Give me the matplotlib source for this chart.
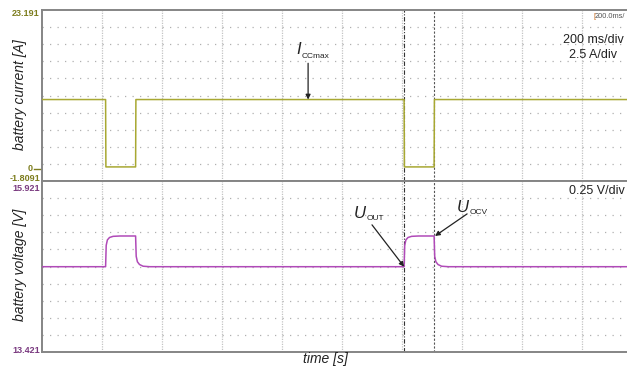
#!/usr/bin/env python3
"""
Oscilloscope-style plot: battery current and battery voltage during two
open-circuit pulses (U_OUT / U_OCV measurement).
"""

import matplotlib
matplotlib.use("Agg")
import matplotlib.pyplot as plt

# ------------------------------------------------------------------ #
#  Data
# ------------------------------------------------------------------ #
# current trace [s], [A]
t_cur = [0.0, 0.212, 0.213, 0.312, 0.313, 1.207, 1.208, 1.307, 1.308, 2.0]
i_cur = [10.1, 10.1, 0.25, 0.25, 10.1, 10.1, 0.25, 0.25, 10.1, 10.1]

# voltage trace [s], [V]
t_volt = [0.0, 0.212, 0.214, 0.218, 0.225, 0.237, 0.26, 0.312,
          0.314, 0.318, 0.325, 0.337, 0.36,
          1.207, 1.209, 1.213, 1.220, 1.232, 1.255, 1.307,
          1.309, 1.313, 1.320, 1.332, 1.355, 2.0]
v_volt = [14.668, 14.668, 14.98, 15.06, 15.095, 15.112, 15.117, 15.117,
          14.82, 14.74, 14.70, 14.675, 14.668,
          14.668, 14.98, 15.06, 15.095, 15.112, 15.117, 15.117,
          14.82, 14.74, 14.70, 14.675, 14.668, 14.668]

# screen scaling
I_MIN, I_MAX = -1.8091, 23.191
V_MIN, V_MAX = 13.421, 15.921
T_MIN, T_MAX = 0.0, 2.0
N_DIV = 10

CURSOR_A = 1.207
CURSOR_B = 1.307

# ------------------------------------------------------------------ #
#  Style
# ------------------------------------------------------------------ #
plt.rcParams["font.family"] = ["Liberation Sans", "DejaVu Sans"]

OLIVE_TXT = "#7d7d1e"
OLIVE_SIG = "#a8a832"
PURPLE_TXT = "#7a3a80"
PURPLE_SIG = "#b04ab8"
FRAME = "#858585"
GRID = "#c4c4c4"

W, H = 627, 368
fig = plt.figure(figsize=(W / 100, H / 100), dpi=100)

# pixel layout of the scope screen
X0, X1 = 42, 642
Y_TOP, Y_MID, Y_BOT = 10, 181, 352


def px_box(x0, x1, ytop, ybot):
    return [x0 / W, 1 - ybot / H, (x1 - x0) / W, (ybot - ytop) / H]


def fy(y_px):
    return 1 - y_px / H


ax_i = fig.add_axes(px_box(X0, X1, Y_TOP, Y_MID))
ax_v = fig.add_axes(px_box(X0, X1, Y_MID, Y_BOT))


def setup(ax, ymin, ymax):
    ax.set_xlim(T_MIN, T_MAX)
    ax.set_ylim(ymin, ymax)
    ax.set_xticks([])
    ax.set_yticks([])
    for side in ("top", "bottom", "left"):
        ax.spines[side].set_color(FRAME)
        ax.spines[side].set_linewidth(1.4)
    ax.spines["right"].set_visible(False)
    step_t = (T_MAX - T_MIN) / N_DIV
    step_y = (ymax - ymin) / N_DIV
    for k in range(1, N_DIV):
        ax.axvline(T_MIN + k * step_t, color=GRID, lw=0.9,
                   ls=(0, (1, 1)), zorder=1)
        ax.axhline(ymin + k * step_y, color="#b0b0b0", lw=0.9,
                   ls=(0, (1, 5)), zorder=1)
    ax.axvline(CURSOR_A, color="#333333", lw=0.8, ls=(0, (4, 1.5, 1, 1.5)),
               zorder=2)
    ax.axvline(CURSOR_B, color="#555555", lw=0.8, ls=(0, (2, 1.5)), zorder=2)


setup(ax_i, I_MIN, I_MAX)
setup(ax_v, V_MIN, V_MAX)

ax_i.plot(t_cur, i_cur, color=OLIVE_SIG, lw=1.1, zorder=3)
ax_v.plot(t_volt, v_volt, color=PURPLE_SIG, lw=1.1, zorder=3)

# ------------------------------------------------------------------ #
#  Scale labels
# ------------------------------------------------------------------ #
lbl = dict(fontsize=6.5, fontweight="bold", ha="right")
fig.text(40 / W, fy(14), "23.191", color=OLIVE_TXT, va="center", **lbl)
fig.text(33 / W, fy(171.5), "0", color=OLIVE_TXT, va="baseline", **lbl)
fig.text(40 / W, fy(181), "-1.8091", color=OLIVE_TXT, va="baseline", **lbl)
ax_i.plot([-0.014, -0.002], [0, 0], color=OLIVE_TXT, lw=1.0,
          transform=ax_i.get_yaxis_transform(), clip_on=False)
fig.text(40 / W, fy(191), "15.921", color=PURPLE_TXT, va="baseline", **lbl)
fig.text(40 / W, fy(353), "13.421", color=PURPLE_TXT, va="baseline", **lbl)

fig.text(20 / W, fy(95), "battery current [A]", rotation=90,
         style="italic", fontsize=10, ha="center", va="center",
         color="#222222")
fig.text(20 / W, fy(265), "battery voltage [V]", rotation=90,
         style="italic", fontsize=10, ha="center", va="center",
         color="#222222")
fig.text(325 / W, fy(359), "time [s]", style="italic", fontsize=10,
         ha="center", va="center", color="#222222")

fig.text(593 / W, fy(17), "[", fontsize=5.3, color="#d07020",
         ha="left", va="center")
fig.text(595 / W, fy(17), "200.0ms/", fontsize=5.3, color="#555555",
         ha="left", va="center")
fig.text(593 / W, fy(40), "200 ms/div", fontsize=9, ha="center",
         va="center", color="#222222")
fig.text(593 / W, fy(55), "2.5 A/div", fontsize=9, ha="center",
         va="center", color="#222222")
fig.text(597 / W, fy(191), "0.25 V/div", fontsize=9, ha="center",
         va="center", color="#222222")

# ------------------------------------------------------------------ #
#  Annotations
# ------------------------------------------------------------------ #
arrow = dict(arrowstyle="-|>", color="#222222", lw=0.9, mutation_scale=7,
             shrinkA=0, shrinkB=0)

# I_CCmax
ax_i.annotate("", xy=(0.887, 10.1), xytext=(0.887, 15.4), arrowprops=arrow)
fig.text(296 / W, fy(49), "I", style="italic", fontsize=12,
         ha="left", va="center", color="#222222")
fig.text(302 / W, fy(56), "CCmax", fontsize=6, ha="left", va="center",
         color="#222222")

# U_OUT
ax_v.annotate("", xy=(CURSOR_A, 14.668), xytext=(1.10, 15.28),
              arrowprops=arrow)
fig.text(354 / W, fy(214), "U", style="italic", fontsize=12,
         ha="left", va="center", color="#222222")
fig.text(367 / W, fy(218), "OUT", fontsize=6, ha="left", va="center",
         color="#222222")

# U_OCV
ax_v.annotate("", xy=(CURSOR_B + 0.003, 15.117), xytext=(1.417, 15.44),
              arrowprops=arrow)
fig.text(457 / W, fy(208), "U", style="italic", fontsize=12,
         ha="left", va="center", color="#222222")
fig.text(470 / W, fy(212), "OCV", fontsize=6, ha="left", va="center",
         color="#222222")

fig.savefig("out.png", dpi=100)
